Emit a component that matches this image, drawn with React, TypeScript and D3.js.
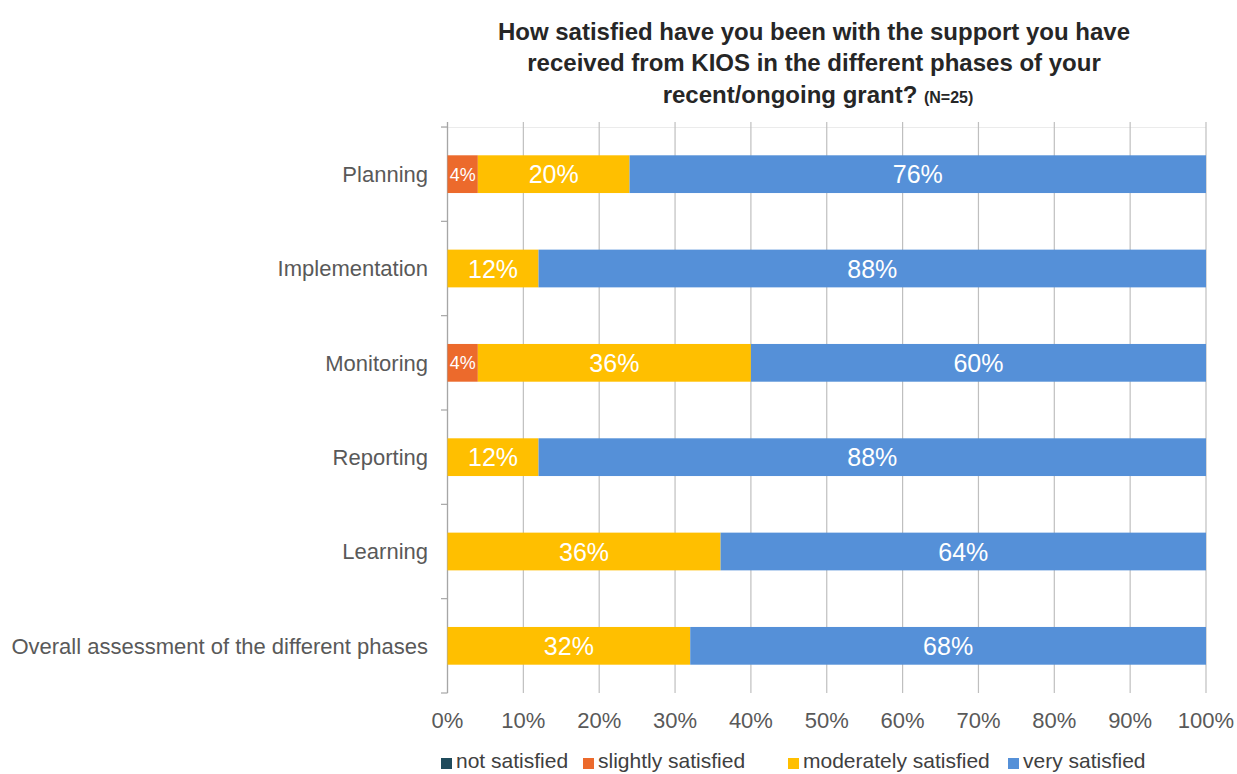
import React from "react";
import * as d3 from "d3";

const categories = [
  "Planning",
  "Implementation",
  "Monitoring",
  "Reporting",
  "Learning",
  "Overall assessment of the different phases",
];
const seriesNames = ["not satisfied", "slightly satisfied", "moderately satisfied", "very satisfied"];
const notSatisfied = [0, 0, 0, 0, 0, 0];
const slightlySatisfied = [4, 0, 4, 0, 0, 0];
const moderatelySatisfied = [20, 12, 36, 12, 36, 32];
const verySatisfied = [76, 88, 60, 88, 64, 68];
const xTicks = [0, 10, 20, 30, 40, 50, 60, 70, 80, 90, 100];
const colors = ["#1F4B5C", "#EC6A2C", "#FFBF00", "#5590D8"];

const FONT = "'Liberation Sans', Arial, sans-serif";

export default function App() {
  const W = 1237, H = 774;
  const x = d3.scaleLinear().domain([0, 100]).range([447.5, 1206]);
  const y = d3.scaleBand<string>().domain(categories).range([127, 693]).paddingInner(0.6).paddingOuter(0.3);
  const rows = categories.map((c, i) => ({
    cat: c,
    s0: notSatisfied[i],
    s1: slightlySatisfied[i],
    s2: moderatelySatisfied[i],
    s3: verySatisfied[i],
  }));
  const stack = d3.stack<any>().keys(["s0", "s1", "s2", "s3"]);
  const layers = stack(rows);
  const bw = y.bandwidth();
  const step = y.step();
  const bandEdges = categories.map((c) => (y(c) as number) - (step - bw) / 2);
  bandEdges.push(693);

  const legendX = [441, 583, 788, 1008];

  return (
    <svg width={W} height={H} style={{ position: "absolute", left: 0, top: 0, background: "#fff" }}>
      <rect width={W} height={H} fill="#fff" />
      {/* title */}
      <text x={814} y={40} textAnchor="middle" fontFamily={FONT} fontWeight="bold" fontSize={24} fill="#262626">
        How satisfied have you been with the support you have
      </text>
      <text x={814} y={71} textAnchor="middle" fontFamily={FONT} fontWeight="bold" fontSize={24} fill="#262626">
        received from KIOS in the different phases of your
      </text>
      <text x={818} y={103} textAnchor="middle" fontFamily={FONT} fontWeight="bold" fill="#262626">
        <tspan fontSize={24}>recent/ongoing grant? </tspan>
        <tspan fontSize={16}>(N=25)</tspan>
      </text>
      {/* faint top line */}
      <line x1={441} x2={1206} y1={127.5} y2={127.5} stroke="#EBEBEB" strokeWidth={1} />
      {/* gridlines */}
      {xTicks.map((t) => (
        <line key={t} x1={x(t)} x2={x(t)} y1={122} y2={693} stroke="#BFBFBF" strokeWidth={1.2} />
      ))}
      {/* left axis */}
      <line x1={447.5} x2={447.5} y1={122} y2={693} stroke="#A6A6A6" strokeWidth={1.2} />
      {bandEdges.map((e, i) => (
        <line key={i} x1={441} x2={447.5} y1={e} y2={e} stroke="#A6A6A6" strokeWidth={1.2} />
      ))}
      {/* bars */}
      {layers.map((layer, li) =>
        layer.map((d, i) => {
          const v = d[1] - d[0];
          if (v <= 0) return null;
          const x0 = x(d[0]);
          const x1 = x(d[1]);
          const yy = y(rows[i].cat) as number;
          const small = v < 8;
          return (
            <g key={`${li}-${i}`}>
              <rect x={x0} y={yy} width={x1 - x0} height={bw} fill={colors[li]} />
              <text
                x={(x0 + x1) / 2}
                y={yy + bw / 2}
                dy="0.36em"
                textAnchor="middle"
                fontFamily={FONT}
                fontSize={small ? 18 : 25}
                fill="#fff"
              >
                {`${v}%`}
              </text>
            </g>
          );
        })
      )}
      {/* category labels */}
      {categories.map((c) => (
        <text
          key={c}
          x={428}
          y={(y(c) as number) + bw / 2}
          dy="0.36em"
          textAnchor="end"
          fontFamily={FONT}
          fontSize={22}
          fill="#595959"
        >
          {c}
        </text>
      ))}
      {/* x tick labels */}
      {xTicks.map((t) => (
        <text key={t} x={x(t)} y={728} textAnchor="middle" fontFamily={FONT} fontSize={22} fill="#595959">
          {`${t}%`}
        </text>
      ))}
      {/* legend */}
      {seriesNames.map((s, i) => (
        <g key={s}>
          <rect x={legendX[i]} y={758} width={11} height={11} fill={colors[i]} />
          <text x={legendX[i] + 15} y={768} fontFamily={FONT} fontSize={21} fill="#404040">
            {s}
          </text>
        </g>
      ))}
    </svg>
  );
}
